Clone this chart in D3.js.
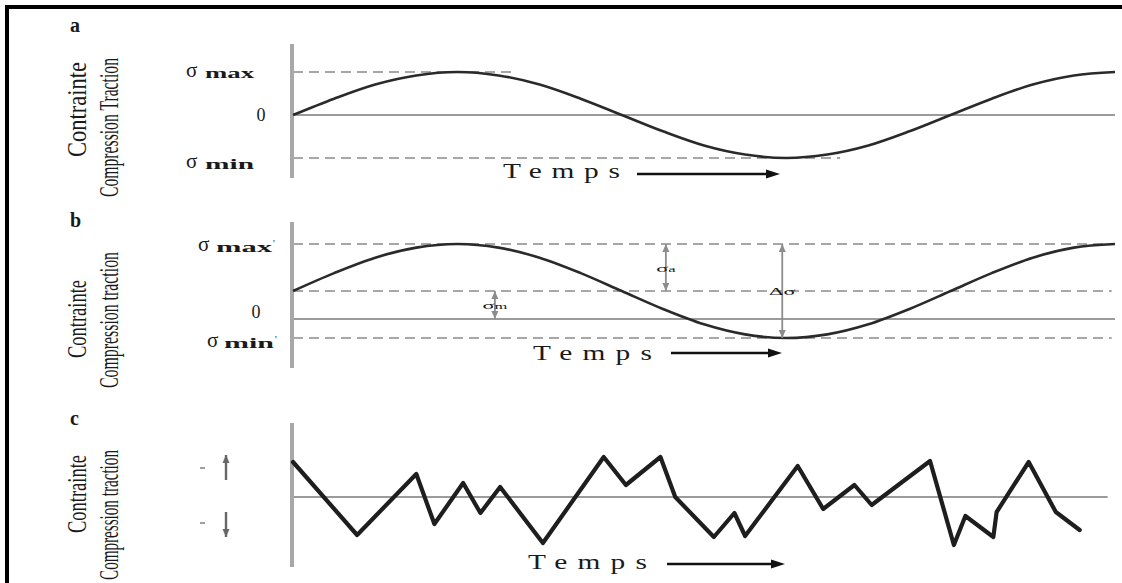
<!DOCTYPE html>
<html><head><meta charset="utf-8">
<script src="https://cdn.jsdelivr.net/npm/d3@7"></script>
<style>
html,body{margin:0;padding:0;background:#fff;}
svg{display:block;}
text{font-family:"Liberation Serif","Times New Roman",serif;fill:#1a1a1a;}
</style></head><body>
<svg id="chart" width="1122" height="583"></svg>
<script>
// ---------------- data ----------------
const panelLetters = ["a", "b", "c"];
const axisTitleTop = ["Contrainte", "Contrainte", "Contrainte"];
const axisTitleBottom = ["Compression  Traction", "Compression  traction", "Compression  traction"];
const timeLabel = "Temps";

// panels a & b : time in periods, stress
const phaseAB = [0, 0.0625, 0.125, 0.1875, 0.25, 0.3125, 0.375, 0.4375, 0.5, 0.5625, 0.625, 0.6875, 0.75, 0.8125, 0.875, 0.9375, 1, 1.0625, 1.125, 1.1875, 1.25];
const stressA = [0, 0.38, 0.71, 0.92, 1, 0.92, 0.71, 0.38, 0, -0.38, -0.71, -0.92, -1, -0.92, -0.71, -0.38, 0, 0.38, 0.71, 0.92, 1];
const stressB = [1, 1.64, 2.19, 2.55, 2.68, 2.55, 2.19, 1.64, 1, 0.36, -0.19, -0.55, -0.68, -0.55, -0.19, 0.36, 1, 1.64, 2.19, 2.55, 2.68];

// reference levels
const levelValuesA = [1, 0, -1];
const levelEndsA = [0.339, 1.25, 0.832];
const levelKindsA = ["dash", "solid", "dash"];
const levelValuesB = [2.68, 1, 0, -0.68];
const levelEndsB = [1.245, 1.245, 1.25, 1.245];
const levelKindsB = ["dash", "dash", "solid", "dash"];

// annotation arrows of panel b
const annotMainB = ["σ", "Δσ", "σ"];
const annotSubB = ["a", "", "m"];
const annotPhaseB = [0.567, 0.744, 0.307];
const annotFromB = [2.68, 2.68, 1];
const annotToB = [1, -0.68, 0];

// panel c : random loading (time 0..100, stress units)
const timeC = [0, 7.8, 15, 17.2, 20.7, 22.8, 25.2, 30.4, 37.8, 40.5, 44.7, 46.5, 51.2, 53.7, 55, 61.4, 64.5, 68.3, 70.4, 77.5, 80.4, 81.8, 85.2, 85.6, 89.5, 92.8, 95.7];
const stressC = [3.5, -3.8, 2.3, -2.7, 1.4, -1.6, 1.0, -4.6, 4.0, 1.2, 4.0, 0, -4.0, -1.6, -3.9, 3.1, -1.2, 1.2, -0.8, 3.6, -4.8, -1.9, -4.0, -1.5, 3.5, -1.5, -3.3];
const zeroEndC = 99.1;
const markStressC = [4.2, 1.7, -1.5, -4.0];
const tickStressC = [2.9, -2.6];

// ---------------- layout ----------------
const svg = d3.select("#chart");
const X0 = 293, X1 = 1115;
const xAB = d3.scaleLinear().domain([0, 1.25]).range([X0, X1]);
const xC = d3.scaleLinear().domain([0, 100]).range([X0, X1]);
const yA = d3.scaleLinear().domain([-1, 1]).range([158, 72]);
const yB = d3.scaleLinear().domain([0, 2.68]).range([319, 244]);
const yC = d3.scaleLinear().domain([-5, 5]).range([547, 447]);

const panels = [
  {top: 44, bottom: 178, letterY: 32, titleTop: [62, 157], titleBot: [58, 197], temps: [503, 178, 117], arrow: [637, 780, 174]},
  {top: 222, bottom: 368, letterY: 227, titleTop: [280, 358], titleBot: [252, 388], temps: [533, 360, 119], arrow: [671, 782, 353]},
  {top: 423, bottom: 567, letterY: 425, titleTop: [455, 533], titleBot: [450, 580], temps: [528, 569, 119], arrow: [667, 785, 564]}
];

// frame
svg.append("path").attr("d", "M7,583V7H1122").attr("fill", "none").attr("stroke", "#000").attr("stroke-width", 4);

const gray = "#8a8a8a";
function drawLevels(xs, ys, vals, ends, kinds) {
  vals.forEach((v, i) => {
    svg.append("line")
      .attr("x1", xs(0)).attr("x2", xs(ends[i]))
      .attr("y1", ys(v)).attr("y2", ys(v))
      .attr("stroke", kinds[i] === "solid" ? "#7a7a7a" : gray)
      .attr("stroke-width", kinds[i] === "solid" ? 1.4 : 1.6)
      .attr("stroke-dasharray", kinds[i] === "solid" ? null : "10,6");
  });
}
drawLevels(xAB, yA, levelValuesA, levelEndsA, levelKindsA);
drawLevels(xAB, yB, levelValuesB, levelEndsB, levelKindsB);
svg.append("line").attr("x1", xC(0)).attr("x2", xC(zeroEndC)).attr("y1", yC(0)).attr("y2", yC(0))
  .attr("stroke", "#7a7a7a").attr("stroke-width", 1.4);

// vertical axes
panels.forEach(p => {
  svg.append("line").attr("x1", X0 - 1).attr("x2", X0 - 1).attr("y1", p.top).attr("y2", p.bottom)
    .attr("stroke", "#a8a8a8").attr("stroke-width", 4);
});

// curves
const lineAB = (ys) => d3.line().x((d, i) => xAB(phaseAB[i])).y(d => ys(d)).curve(d3.curveMonotoneX);
svg.append("path").datum(stressA).attr("d", lineAB(yA)).attr("fill", "none").attr("stroke", "#2a2a2a").attr("stroke-width", 2.6);
svg.append("path").datum(stressB).attr("d", lineAB(yB)).attr("fill", "none").attr("stroke", "#2a2a2a").attr("stroke-width", 2.6);
const lineC = d3.line().x((d, i) => xC(timeC[i])).y(d => yC(d)).curve(d3.curveLinear);
svg.append("path").datum(stressC).attr("d", lineC).attr("fill", "none").attr("stroke", "#1e1e1e")
  .attr("stroke-width", 4.2).attr("stroke-linejoin", "round").attr("stroke-linecap", "round");

// arrows
function vArrow(x, y1, y2, color, w, heads) {
  svg.append("line").attr("x1", x).attr("x2", x).attr("y1", y1).attr("y2", y2).attr("stroke", color).attr("stroke-width", w);
  heads.forEach(([yt, dir]) => {
    svg.append("path").attr("d", `M${x},${yt}L${x - 3.5},${yt + dir * 8}L${x + 3.5},${yt + dir * 8}Z`).attr("fill", color);
  });
}
annotMainB.forEach((lab, i) => {
  const x = xAB(annotPhaseB[i]);
  const ya = yB(annotFromB[i]), yb = yB(annotToB[i]);
  vArrow(x, ya, yb, "#8c8c8c", 1.8, [[ya, 1], [yb, -1]]);
  const ym = (ya + yb) / 2;
  const t = svg.append("text").attr("transform", `translate(${x},${ym + 4}) scale(1.5,0.75)`)
    .attr("text-anchor", "middle").attr("font-size", 15).attr("fill", "#666");
  t.append("tspan").text(lab);
  if (annotSubB[i]) t.append("tspan").attr("font-size", 11).text(annotSubB[i]);
});

// side marks in c
const xm = X0 - 67;
vArrow(xm, yC(markStressC[1]), yC(markStressC[0]), "#666", 2.4, [[yC(markStressC[0]), 1]]);
vArrow(xm, yC(markStressC[2]), yC(markStressC[3]), "#666", 2.4, [[yC(markStressC[3]), -1]]);
tickStressC.forEach(s => {
  svg.append("line").attr("x1", X0 - 93).attr("x2", X0 - 88).attr("y1", yC(s)).attr("y2", yC(s))
    .attr("stroke", "#888").attr("stroke-width", 1.6);
});

// rotated, condensed title helper
function rotTitle(xBase, range, str) {
  const c = (range[0] + range[1]) / 2, len = range[1] - range[0];
  const t = svg.append("text").attr("font-size", 28).attr("text-anchor", "middle").text(str);
  const nat = t.node().getComputedTextLength();
  t.attr("transform", `translate(${xBase},${c}) rotate(-90) scale(${len / nat},1)`);
}

panels.forEach((p, i) => {
  svg.append("text").attr("x", 70).attr("y", p.letterY).attr("font-size", 20).attr("font-weight", "bold").text(panelLetters[i]);
  rotTitle(86, p.titleTop, axisTitleTop[i]);
  rotTitle(118, p.titleBot, axisTitleBottom[i]);
  const sx = 1.4;
  svg.append("text").attr("transform", `translate(${p.temps[0]},${p.temps[1]}) scale(${sx},1)`)
    .attr("font-size", 21).attr("textLength", p.temps[2] / sx).attr("lengthAdjust", "spacing").text(timeLabel);
  const [ax1, ax2, ay] = p.arrow;
  svg.append("line").attr("x1", ax1).attr("x2", ax2 - 10).attr("y1", ay).attr("y2", ay).attr("stroke", "#111").attr("stroke-width", 2.6);
  svg.append("path").attr("d", `M${ax2},${ay}L${ax2 - 14},${ay - 4.5}L${ax2 - 14},${ay + 4.5}Z`).attr("fill", "#111");
});

// sigma labels
function sigmaLabel(xs, yc, sub, subStart, subEnd, prime) {
  svg.append("text").attr("x", xs).attr("y", yc + 5).attr("font-size", 21).text("σ");
  svg.append("text").attr("x", subStart).attr("y", yc + 6).attr("font-size", 15).attr("font-weight", "bold")
    .attr("textLength", subEnd - subStart).attr("lengthAdjust", "spacingAndGlyphs").text(sub);
  if (prime) svg.append("text").attr("x", subEnd + 1).attr("y", yc + 1).attr("font-size", 10).attr("fill", "#888").text("'");
}
sigmaLabel(186, yA(1), "max", 205, 254, false);
sigmaLabel(186, yA(-1) + 5, "min", 205, 254, false);
svg.append("text").attr("x", 261).attr("y", yA(0) + 6).attr("text-anchor", "middle").attr("font-size", 18).text("0");
sigmaLabel(198, yB(2.68) + 2, "max", 216, 272, true);
sigmaLabel(207, yB(-0.68) + 4, "min", 224, 274, true);
svg.append("text").attr("x", 256).attr("y", yB(0) - 1).attr("text-anchor", "middle").attr("font-size", 18).text("0");
</script>
</body></html>
